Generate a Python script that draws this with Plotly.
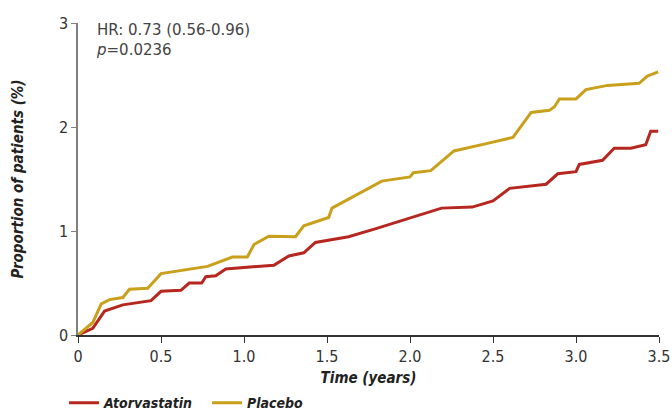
import plotly.graph_objects as go

# Cumulative incidence (%) by treatment arm, read at the curve's breakpoints
years_placebo = [0, 0.089, 0.14, 0.19, 0.27, 0.31, 0.42, 0.50, 0.78, 0.89, 0.93, 1.02, 1.06,
                 1.15, 1.31, 1.36, 1.51, 1.53, 1.83, 2.00, 2.02, 2.125, 2.265, 2.46, 2.62,
                 2.73, 2.84, 2.87, 2.90, 3.00, 3.06, 3.19, 3.38, 3.43, 3.495]
pct_placebo = [0, 0.12, 0.30, 0.34, 0.36, 0.44, 0.45, 0.59, 0.66, 0.73, 0.75, 0.75, 0.87,
               0.95, 0.945, 1.05, 1.13, 1.22, 1.48, 1.52, 1.56, 1.58, 1.77, 1.84, 1.90,
               2.14, 2.16, 2.195, 2.27, 2.27, 2.36, 2.40, 2.42, 2.49, 2.53]

years_atorva = [0, 0.089, 0.16, 0.27, 0.44, 0.50, 0.62, 0.67, 0.745, 0.77, 0.83, 0.89, 1.00,
                1.18, 1.27, 1.36, 1.43, 1.63, 1.79, 1.995, 2.19, 2.375, 2.50, 2.60, 2.82,
                2.89, 3.00, 3.02, 3.16, 3.23, 3.33, 3.42, 3.45, 3.495]
pct_atorva = [0, 0.064, 0.23, 0.29, 0.33, 0.42, 0.43, 0.50, 0.50, 0.56, 0.57, 0.635, 0.65,
              0.67, 0.76, 0.79, 0.89, 0.945, 1.02, 1.12, 1.22, 1.23, 1.29, 1.41, 1.45,
              1.55, 1.57, 1.64, 1.68, 1.795, 1.795, 1.83, 1.96, 1.96]

x_ticks = [0, 0.5, 1.0, 1.5, 2.0, 2.5, 3.0, 3.5]
x_tick_text = ["0", "0.5", "1.0", "1.5", "2.0", "2.5", "3.0", "3.5"]
y_ticks = [0, 1, 2, 3]

RED = "#B5271F"
GOLD = "#C9A01B"
NARROW = "DejaVu Sans Condensed, Liberation Sans Narrow, sans-serif"


def narrow(size, color="#333333", weight="normal", style="normal"):
    return dict(family=NARROW, size=size, color=color, weight=weight, style=style)


fig = go.Figure()
fig.add_trace(go.Scatter(x=years_atorva, y=pct_atorva, mode="lines", name="Atorvastatin",
                         line=dict(color=RED, width=3)))
fig.add_trace(go.Scatter(x=years_placebo, y=pct_placebo, mode="lines", name="Placebo",
                         line=dict(color=GOLD, width=3)))

fig.add_annotation(x=0, y=1, xref="paper", yref="paper", xanchor="left", yanchor="top",
                   xshift=16, yshift=4, align="left", showarrow=False,
                   text="HR: 0.73 (0.56-0.96)<br><i>p</i>=0.0236",
                   font=dict(family="DejaVu Sans, sans-serif", size=15, color="#444444"))

fig.update_layout(
    width=672, height=411,
    margin=dict(l=78, r=13, t=23, b=76, autoexpand=False),
    paper_bgcolor="white", plot_bgcolor="white",
    showlegend=True,
    legend=dict(orientation="h", x=-0.024, xanchor="left", y=0.058, yref="container",
                yanchor="top", entrywidth=98, entrywidthmode="pixels",
                font=narrow(14, "#222222", "bold", "italic"),
                itemclick=False),
    xaxis=dict(range=[0, 3.5], tickvals=x_ticks, ticktext=x_tick_text,
               showgrid=False, zeroline=False, showline=True, linecolor="#333333",
               linewidth=1.5, ticks="outside", ticklen=6, tickcolor="#333333",
               tickfont=narrow(16),
               title=dict(text="Time (years)", standoff=8,
                          font=narrow(15, "#222222", "bold", "italic"))),
    yaxis=dict(range=[0, 3], tickvals=y_ticks, showgrid=False, zeroline=False,
               showline=True, linecolor="#808080", linewidth=1.5, ticks="outside",
               ticklen=5, tickcolor="#808080",
               tickfont=narrow(16),
               title=dict(text="Proportion of patients (%)", standoff=32,
                          font=narrow(15, "#222222", "bold", "italic"))),
)

fig.write_html("out.html")
